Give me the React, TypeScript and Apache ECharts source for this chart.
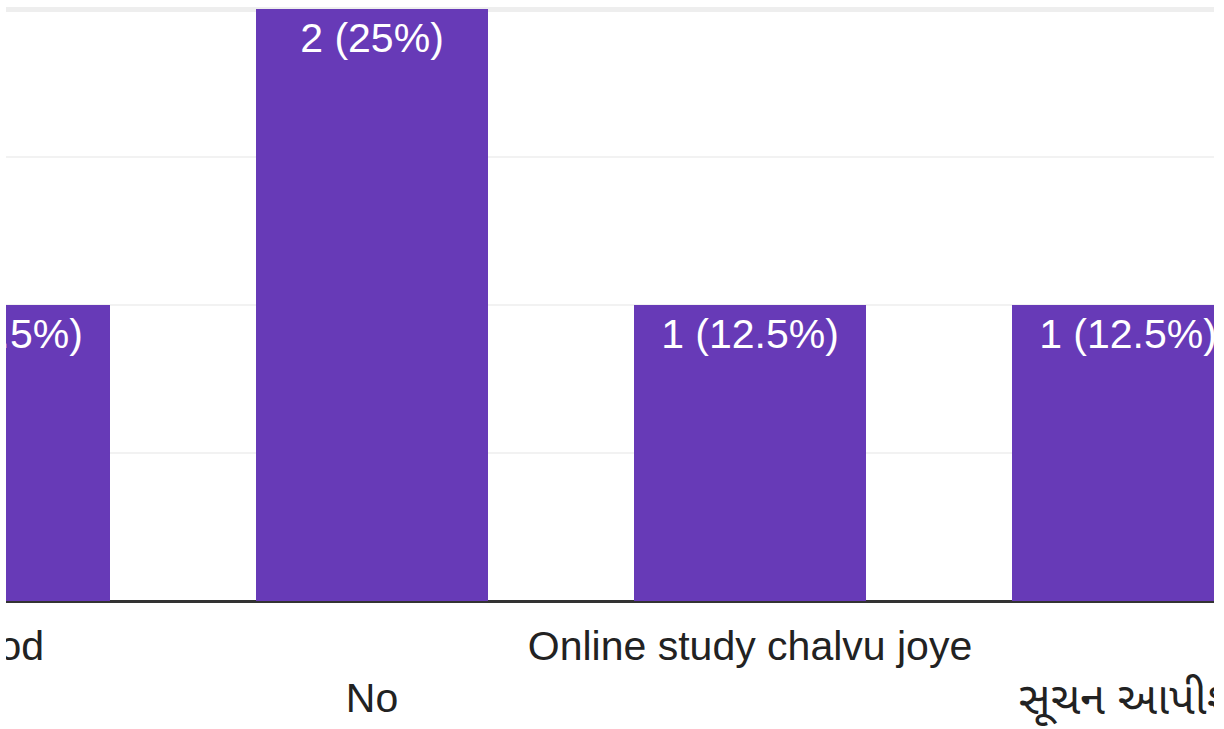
import React, { useEffect, useRef } from "react";
import * as echarts from "echarts";

const categories = ["Good", "No", "Online study chalvu joye", "સૂચન આપીશું"];
const counts = [1, 2, 1, 1];
const percents = ["12.5", "25", "12.5", "12.5"];
const yTicks = [0, 0.5, 1, 1.5, 2];

const FONT = "'Liberation Sans', Arial, 'Noto Sans Gujarati', 'Noto Sans', sans-serif";

const isLatin = (s: string) => /^[\x00-\x7F]*$/.test(s);

export default function App() {
  const ref = useRef<HTMLDivElement>(null);

  useEffect(() => {
    document.body.style.margin = "0";
    const chart = echarts.init(ref.current!, undefined, { renderer: "svg" });
    chart.setOption({
      animation: false,
      backgroundColor: "#ffffff",
      grid: { left: 0, right: 0, top: 9, bottom: 128, containLabel: false },
      xAxis: {
        type: "category",
        data: categories,
        axisLine: { show: true, lineStyle: { color: "#333333", width: 3 } },
        axisTick: { show: false },
        axisLabel: {
          interval: 0,
          hideOverlap: false,
          margin: 19,
          color: "#222222",
          fontSize: 41,
          fontFamily: FONT,
          lineHeight: 52,
          formatter: (v: string, i: number) => {
            const t = isLatin(v) ? v : `{g|${v}}`;
            return i % 2 === 1 ? "\n" + t : t;
          },
          rich: {
            g: { fontSize: 45, lineHeight: 52, color: "#222222", fontFamily: FONT, fontWeight: "normal" },
          },
        },
      },
      yAxis: {
        type: "value",
        min: yTicks[0],
        max: yTicks[yTicks.length - 1],
        interval: 0.5,
        axisLabel: { show: false },
        axisLine: { show: false },
        axisTick: { show: false },
        splitLine: { show: true, lineStyle: { color: "#f2f2f2", width: 2 } },
      },
      series: [
        {
          type: "bar",
          data: counts,
          barWidth: 232,
          itemStyle: { color: "#673ab7" },
          label: {
            show: true,
            position: "insideTop",
            distance: 8,
            color: "#ffffff",
            fontSize: 41,
            fontFamily: FONT,
            formatter: (p: any) => `${p.value} (${percents[p.dataIndex]}%)`,
          },
          markLine: {
            silent: true,
            symbol: "none",
            label: { show: false },
            lineStyle: { color: "#eeeeee", width: 5, type: "solid" },
            data: [{ yAxis: yTicks[yTicks.length - 1] }],
            z: 0,
          },
        },
      ],
    });
    return () => chart.dispose();
  }, []);

  return (
    <div style={{ position: "fixed", left: 0, top: 0, width: 1224, height: 729, background: "#fff", overflow: "hidden" }}>
      <div style={{ position: "absolute", left: 6, top: 0, width: 1208, height: 729, overflow: "hidden" }}>
        <div ref={ref} style={{ position: "absolute", left: -201, top: 0, width: 1512, height: 729 }} />
      </div>
    </div>
  );
}
